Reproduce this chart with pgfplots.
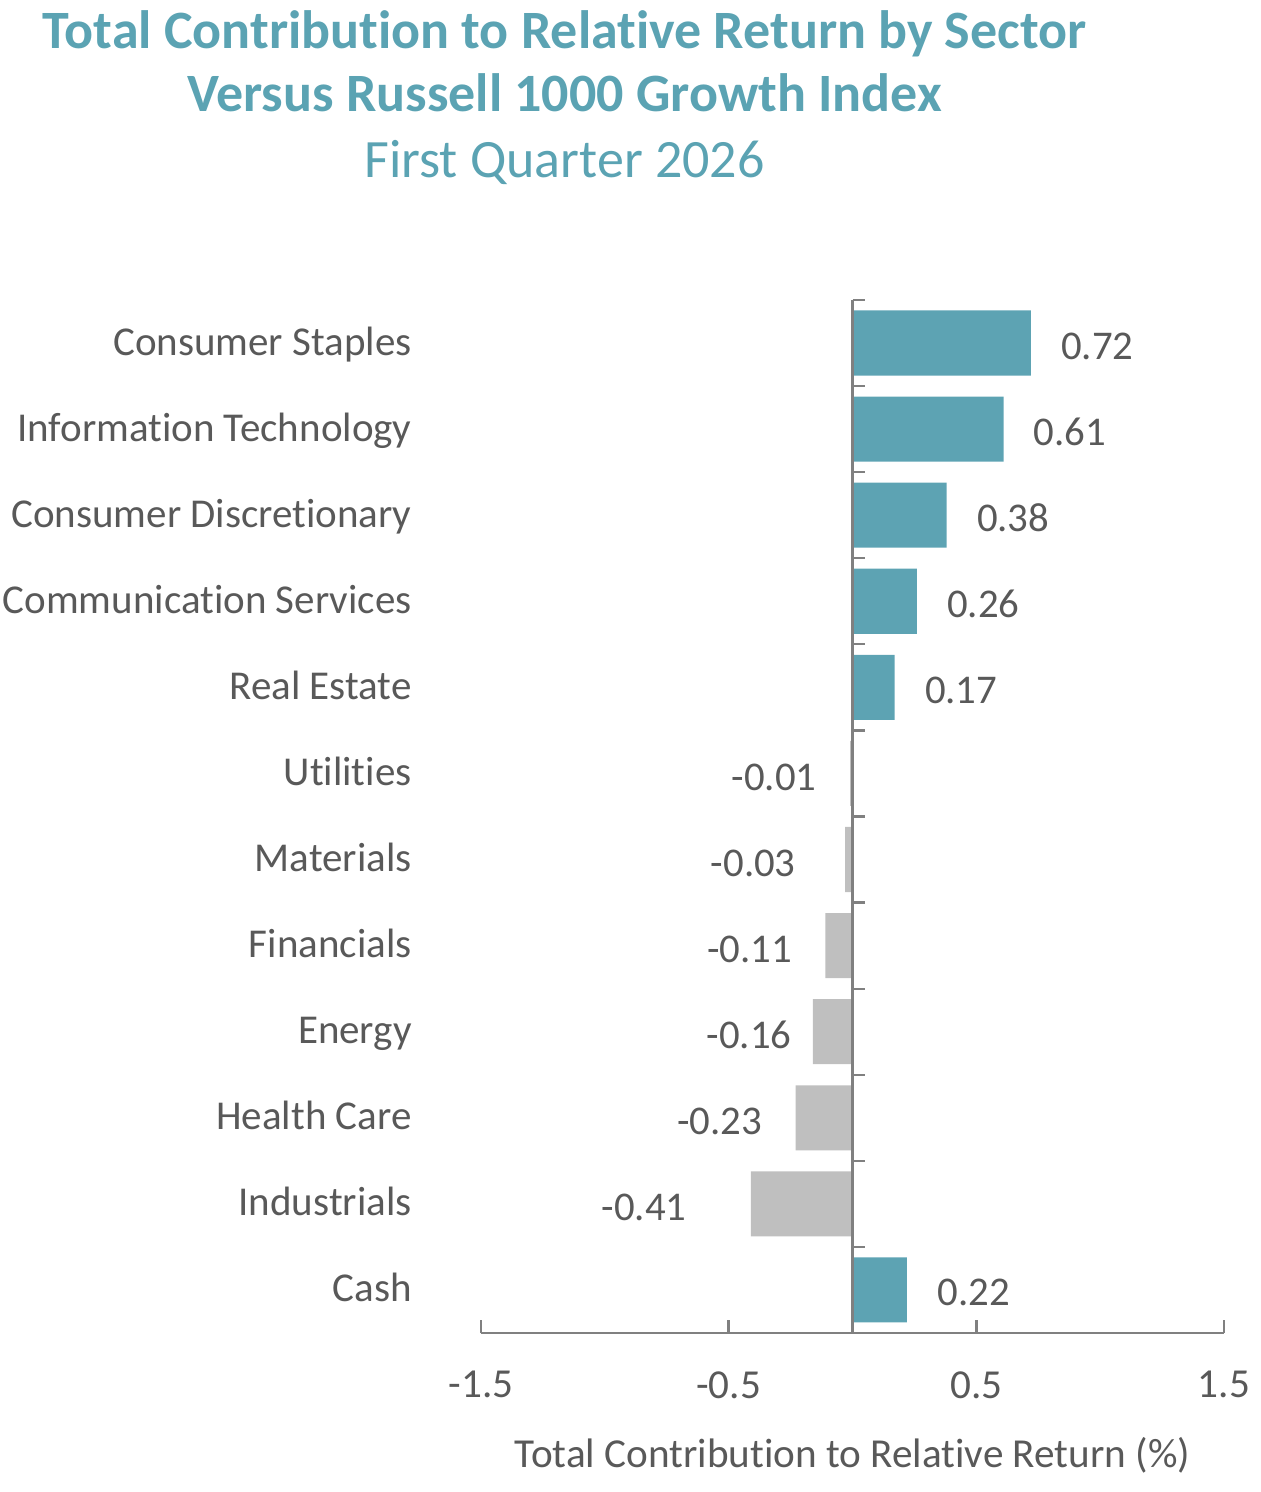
\documentclass[border=0pt]{standalone}
\usepackage{fontspec}
\setmainfont{Carlito}[Ligatures=NoCommon]
\usepackage{pgfplots}
\usepackage{pgfplotstable}
\pgfplotsset{compat=1.18}
\definecolor{teal}{HTML}{5BA3B3}
\definecolor{barteal}{HTML}{5DA3B3}
\definecolor{bargray}{HTML}{BFBFBF}
\definecolor{txt}{HTML}{595959}
\definecolor{axgray}{HTML}{808080}

\pgfplotstableread{
y x lab off
11 0.72 0.72 15
10 0.61 0.61 15
9 0.38 0.38 15
8 0.26 0.26 15
7 0.17 0.17 15
0 0.22 0.22 15
}\pos
\pgfplotstableread{
y x lab off
6 -0.01 -0.01 -16.5
5 -0.03 -0.03 -24.5
4 -0.11 -0.11 -16.5
3 -0.16 -0.16 -10.5
2 -0.23 -0.23 -16.5
1 -0.41 -0.41 -32
}\negt

\begin{document}
\begin{tikzpicture}
\path[use as bounding box] (-240.5pt,-79.5pt) rectangle (389.5pt,666.5pt);
\begin{axis}[
  at={(0,0)}, anchor=south west,
  scale only axis,
  width=371.5pt, height=516.5pt,
  xmin=-1.5, xmax=1.5, ymin=-0.5, ymax=11.5,
  axis x line*=bottom, axis y line*=left,
  y axis line style={draw=none},
  x axis line style={draw=axgray, line width=1.4pt},
  xtick={-1.5,-0.5,0.5,1.5},
  xticklabels={-1.5,-0.5,0.5,1.5},
  extra x ticks={0}, extra x tick labels={},
  tick align=inside,
  xtick style={draw=axgray, line width=1.2pt},
  major x tick style={draw=axgray, line width=1.2pt},
  major tick length=6.5pt,
  ytick={0,...,11},
  yticklabels={Cash,Industrials,Health Care,Energy,Financials,Materials,Utilities,Real Estate,Communication Services,Consumer Discretionary,Information Technology,Consumer Staples},
  ytick style={draw=none},
  yticklabel style={font=\fontsize{20.5pt}{23pt}\selectfont, text=txt, anchor=base east, inner sep=0pt, xshift=-28pt, yshift=-6pt},
  xticklabel style={font=\fontsize{20.6pt}{23pt}\selectfont, text=txt, anchor=north, inner sep=0pt, yshift=-19pt},
  xlabel={Total Contribution to Relative Return (\%)},
  xlabel style={font=\fontsize{20.6pt}{23pt}\selectfont, text=txt, at={(axis description cs:0.5,0)}, anchor=north, inner sep=0pt, yshift=-52pt},
  clip=false,
  xbar, bar width=0.756,
  point meta=explicit symbolic,
  nodes near coords,
  nodes near coords style={font=\fontsize{20.4pt}{23pt}\selectfont, text=txt, inner sep=0pt},
]
\addplot[bar shift=0pt, fill=barteal, draw=none,
  visualization depends on={\thisrow{off} \as \off},
  nodes near coords style={anchor=base west, xshift=\off pt, yshift=-8pt}]
  table[x=x, y=y, meta=lab] {\pos};
\addplot[bar shift=0pt, fill=bargray, draw=none,
  visualization depends on={\thisrow{off} \as \off},
  nodes near coords style={anchor=base east, xshift=\off pt, yshift=-8.5pt}]
  table[x=x, y=y, meta=lab] {\negt};
\draw[axgray, line width=1.1pt] (axis cs:0,-0.5) -- (axis cs:0,11.5);
\pgfplotsinvokeforeach{0.5,1.5,...,11.5}{
  \draw[axgray, line width=1.1pt] (axis cs:0,#1) -- ++(6pt,0pt);
}
\end{axis}
\node[anchor=base, text=teal, font=\fontsize{27pt}{30pt}\selectfont\bfseries] at (41.75pt,642pt) {Total Contribution to Relative Return by Sector};
\node[anchor=base, text=teal, font=\fontsize{27pt}{30pt}\selectfont\bfseries] at (41.75pt,610.5pt) {Versus Russell 1000 Growth Index};
\node[anchor=base, text=teal, font=\fontsize{27pt}{30pt}\selectfont] at (41.75pt,577.5pt) {First Quarter 2026};
\end{tikzpicture}
\end{document}
